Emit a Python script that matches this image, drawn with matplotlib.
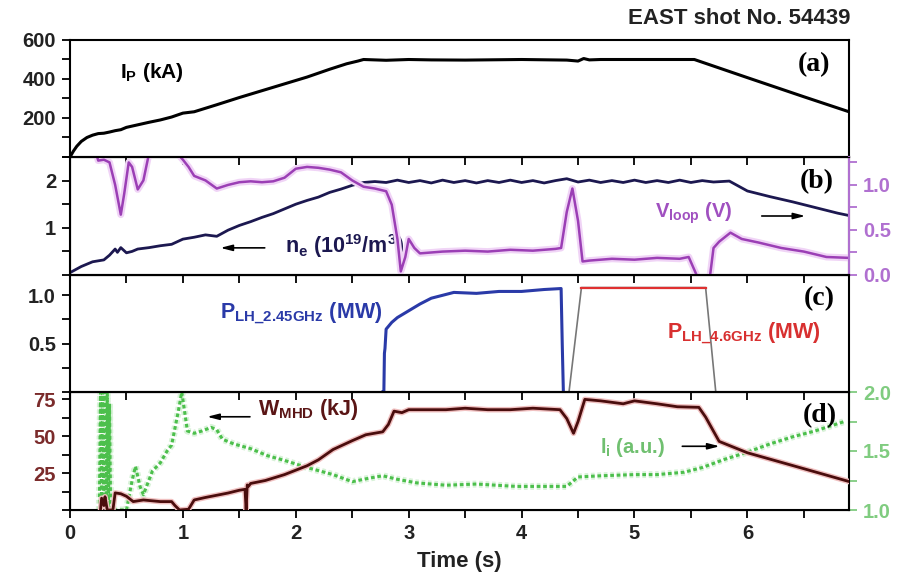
import matplotlib
matplotlib.use("Agg")
import matplotlib.pyplot as plt
import matplotlib.patheffects as pe
from matplotlib.ticker import MultipleLocator

plt.rcParams["font.family"] = ["Liberation Sans", "DejaVu Sans"]
plt.rcParams["font.weight"] = "bold"
plt.rcParams["mathtext.fontset"] = "custom"
plt.rcParams["mathtext.rm"] = "Liberation Sans:bold"
plt.rcParams["mathtext.it"] = "Liberation Sans:bold"
plt.rcParams["mathtext.bf"] = "Liberation Sans:bold"
plt.rcParams["mathtext.default"] = "bf"

# ---- data ----
# (a) plasma current
ip_t = [0, 0.03, 0.06, 0.1, 0.15, 0.2, 0.25, 0.3, 0.35, 0.4, 0.45, 0.5, 0.6, 0.7, 0.8, 0.9, 1.0,
        1.1, 1.2, 1.3, 1.5, 1.7, 1.9, 2.1, 2.3, 2.45, 2.55, 2.6, 2.7, 2.8, 3.0, 3.2, 3.5, 4.0,
        4.4, 4.5, 4.55, 4.6, 4.7, 5.0, 5.53, 6.0, 6.5, 6.9]
ip_v = [0, 30, 55, 80, 100, 112, 120, 122, 128, 135, 140, 152, 165, 178, 190, 205, 225,
        232, 250, 268, 305, 340, 375, 410, 450, 478, 492, 500, 498, 496, 500, 498, 497, 500,
        497, 492, 505, 498, 500, 500, 500, 407, 309, 232]

# (b) density and loop voltage
ne_t = [0, 0.1, 0.2, 0.3, 0.35, 0.4, 0.42, 0.45, 0.5, 0.55, 0.6, 0.7, 0.8, 0.9, 1.0, 1.1, 1.2,
        1.3, 1.4, 1.5, 1.6, 1.7, 1.8, 1.9, 2.0, 2.1, 2.2, 2.3, 2.4, 2.5, 2.6, 2.7,
        2.8, 2.9, 3.0, 3.1, 3.2, 3.3, 3.4, 3.5, 3.6, 3.7, 3.8, 3.9, 4.0, 4.1, 4.2, 4.3, 4.4,
        4.5, 4.6, 4.7, 4.8, 4.9, 5.0, 5.1, 5.2, 5.3, 5.4, 5.5, 5.6, 5.7, 5.84,
        6.0, 6.2, 6.4, 6.6, 6.8, 6.9]
ne_v = [0.05, 0.18, 0.28, 0.32, 0.42, 0.55, 0.48, 0.58, 0.47, 0.5, 0.55, 0.58, 0.62, 0.65,
        0.76, 0.80, 0.85, 0.82, 0.95, 1.05, 1.13, 1.22, 1.3, 1.4, 1.5, 1.58, 1.65, 1.75, 1.82,
        1.9, 1.96, 1.98,
        1.96, 2.01, 1.96, 2.0, 1.95, 2.01, 1.96, 2.0, 1.95, 2.0, 1.96, 2.01, 1.96, 2.0, 1.95,
        2.0, 2.04, 1.97, 2.01, 1.96, 2.0, 1.96, 2.01, 1.96, 2.0, 1.96, 2.01, 1.96, 2.0, 1.97, 1.99,
        1.78, 1.66, 1.55, 1.43, 1.31, 1.26]

vl_t = [0, 0.2, 0.25, 0.3, 0.35, 0.4, 0.45, 0.48, 0.52, 0.55, 0.6, 0.65, 0.7, 0.75, 0.9, 0.95,
        1.0, 1.05, 1.1, 1.2, 1.3, 1.4, 1.5, 1.6, 1.7, 1.8, 1.9, 2.0, 2.1, 2.2, 2.3, 2.4, 2.5,
        2.6, 2.7, 2.8, 2.85, 2.9, 2.93, 2.97, 3.0, 3.05, 3.1, 3.2, 3.3, 3.5, 3.7, 3.9, 4.1,
        4.3, 4.35, 4.4, 4.45, 4.5, 4.54, 4.6, 4.8, 5.0, 5.2, 5.4, 5.48, 5.55, 5.6, 5.66, 5.7,
        5.75, 5.85, 5.95, 6.1, 6.3, 6.5, 6.7, 6.9]
vl_v = [1.5, 1.5, 1.27, 1.28, 1.25, 1.0, 0.67, 0.9, 1.25, 1.2, 0.95, 1.05, 1.35, 1.5, 1.5, 1.35,
        1.28, 1.2, 1.1, 1.05, 0.96, 1.0, 1.03, 1.04, 1.03, 1.04, 1.08, 1.18, 1.2, 1.19, 1.17,
        1.14, 1.05, 0.98, 0.96, 0.93, 0.78, 0.4, 0.04, 0.2, 0.40, 0.30, 0.24, 0.25, 0.26, 0.27,
        0.26, 0.28, 0.27, 0.29, 0.3, 0.7, 0.96, 0.6, 0.15, 0.16, 0.18, 0.17, 0.19, 0.18, 0.2,
        0.0, -0.2, -0.1, 0.3, 0.37, 0.47, 0.4, 0.36, 0.3, 0.26, 0.2, 0.19]

# (c) LH powers
p245_t = [2.77, 2.78, 2.785, 2.79, 2.8, 2.85, 2.9, 3.0, 3.1, 3.2, 3.3, 3.4, 3.6, 3.8, 4.0, 4.2,
          4.35, 4.36, 4.37]
p245_v = [0, 0, 0.4, 0.45, 0.65, 0.72, 0.77, 0.84, 0.91, 0.97, 1.0, 1.03, 1.02, 1.04, 1.04,
          1.06, 1.07, 0.5, 0]
p46_t = [4.42, 4.53, 5.63, 5.72]
p46_v = [0, 1.08, 1.08, 0]

# (d) stored energy and internal inductance
w_t = [0.27, 0.28, 0.3, 0.31, 0.33, 0.38, 0.4, 0.45, 0.5, 0.56, 0.65, 0.8, 0.9, 0.93, 0.97,
       1.05, 1.1, 1.2, 1.3, 1.4, 1.5, 1.55, 1.56, 1.57, 1.58, 1.6, 1.73, 1.9, 2.0, 2.1, 2.2,
       2.33, 2.5, 2.62, 2.77, 2.82, 2.87, 2.94, 3.0, 3.07, 3.2, 3.33, 3.5, 3.7, 3.9, 4.1, 4.34,
       4.4, 4.46, 4.5, 4.56, 4.7, 4.9, 5.0, 5.2, 5.38, 5.57, 5.63, 5.75, 6.0, 6.5, 6.9]
w_v = [0, 8, 3, 9, 0, 0, 11.6, 11, 9.3, 5.7, 6.8, 5.7, 5.7, 3, 0, 0.5, 6.8, 8.5, 10, 11.5,
       13.4, 14, 0, 17, 16, 18, 20, 24, 27, 30, 34, 41, 47, 51, 53, 58, 67, 66, 68, 68, 68,
       68, 69, 68, 68, 69, 68, 62, 52, 60, 75, 74, 72, 74, 72, 70, 69.6, 63, 46.5, 38.8, 28, 19.3]

li_t = [0.26, 0.27, 0.28, 0.29, 0.3, 0.31, 0.32, 0.33, 0.34, 0.35, 0.36, 0.5, 0.55, 0.58, 0.62,
        0.65, 0.73, 0.8, 0.86, 0.9, 0.96, 0.99, 1.04, 1.1, 1.17, 1.25, 1.3, 1.35, 1.45, 1.6,
        1.75, 1.9, 2.1, 2.33, 2.5, 2.65, 2.77, 2.9, 3.07, 3.33, 3.6, 3.95, 4.2, 4.4, 4.5, 4.7,
        5.0, 5.2, 5.44, 5.6, 5.8, 6.0, 6.2, 6.4, 6.6, 6.86]
li_v = [1.0, 2.0, 1.0, 2.0, 1.1, 2.0, 1.0, 2.0, 1.0, 1.9, 1.0, 1.0, 1.25, 1.37, 1.2, 1.13,
        1.33, 1.4, 1.5, 1.55, 1.84, 2.0, 1.67, 1.65, 1.67, 1.7, 1.68, 1.6, 1.56, 1.52, 1.46,
        1.42, 1.36, 1.3, 1.24, 1.27, 1.29, 1.26, 1.23, 1.21, 1.22, 1.2, 1.2, 1.2, 1.28, 1.29,
        1.3, 1.3, 1.32, 1.36, 1.43, 1.49, 1.56, 1.62, 1.67, 1.75]

x_ticks = [0, 1, 2, 3, 4, 5, 6]

# ---- figure ----
fig = plt.figure(figsize=(8.98, 5.77), dpi=100)
W, H = 898, 577
L, R = 70, 849
edges = [40, 157, 275, 392, 510]
TICK_FS = 14.5


def bold_ticks(ax):
    for lab in ax.get_xticklabels() + ax.get_yticklabels():
        lab.set_fontweight("bold")


def make_ax(i):
    top, bot = edges[i], edges[i + 1]
    ax = fig.add_axes([L / W, 1 - bot / H, (R - L) / W, (bot - top) / H])
    ax.patch.set_visible(False)
    ax.set_xlim(0, 6.9)
    ax.xaxis.set_major_locator(MultipleLocator(1))
    ax.xaxis.set_minor_locator(MultipleLocator(0.5))
    ax.tick_params(axis="both", which="both", direction="out", length=6, width=1.3,
                   labelsize=TICK_FS, pad=4, labelcolor="#222222")
    for s in ax.spines.values():
        s.set_linewidth(1.5)
    if i < 3:
        ax.tick_params(axis="x", labelbottom=False)
    return ax


def glow(color, w=5):
    return [pe.Stroke(linewidth=w, foreground=color), pe.Normal()]


arrow = dict(arrowstyle="-|>,head_length=0.7,head_width=0.18", color="black", lw=1.2,
             shrinkA=0, shrinkB=0)

# (a)
ax1 = make_ax(0)
ax1.plot(ip_t, ip_v, color="black", lw=2.2)
ax1.set_ylim(0, 600)
ax1.set_yticks([200, 400, 600])
ax1.yaxis.set_minor_locator(MultipleLocator(100))
ax1.text(0.064, 0.72, r"I$_P$ (kA)", transform=ax1.transAxes, fontsize=15, va="center")
ax1.text(0.976, 0.79, "(a)", transform=ax1.transAxes, fontsize=20, ha="right", va="center",
         family="Liberation Serif", weight="bold")
fig.text(850 / W, 1 - 18 / H, "EAST shot No. 54439", ha="right", va="center", fontsize=16,
         color="#222222", weight="bold")

# (b)
ax2 = make_ax(1)
ax2b = ax2.twinx()
ax2.plot(ne_t, ne_v, color="#1c1850", lw=2, zorder=3)
ax2.set_ylim(0, 2.5)
ax2.set_yticks([1, 2])
ax2.yaxis.set_minor_locator(MultipleLocator(0.5))
ax2b.plot(vl_t, vl_v, color="#9b3fb5", lw=1.8, path_effects=glow("#f0d4f6", 5))
ax2b.set_ylim(0, 1.31)
ax2b.set_yticks([0.0, 0.5, 1.0])
ax2b.set_yticklabels(["0.0", "0.5", "1.0"])
ax2b.yaxis.set_minor_locator(MultipleLocator(0.25))
ax2b.tick_params(axis="y", which="both", direction="out", length=6, width=1.3,
                 labelsize=TICK_FS, colors="#b070d0", pad=4)
ax2b.spines["right"].set_color("#b070d0")
ax2b.spines["right"].set_linewidth(1.5)
ax2.text(0.276, 0.245, r"n$_e$ (10$^{19}$/m$^3$)", transform=ax2.transAxes, fontsize=15.5,
         va="center", color="#1c1850", zorder=5)
ax2.annotate("", xy=(0.193, 0.23), xytext=(0.25, 0.23), xycoords="axes fraction",
             arrowprops=arrow)
ax2.text(0.751, 0.525, r"V$_{loop}$ (V)", transform=ax2.transAxes, fontsize=14.5, va="center",
         color="#a050c0")
ax2.annotate("", xy=(0.944, 0.5), xytext=(0.888, 0.5), xycoords="axes fraction",
             arrowprops=arrow)
ax2.text(0.98, 0.79, "(b)", transform=ax2.transAxes, fontsize=20, ha="right", va="center",
         family="Liberation Serif", weight="bold", zorder=5)

# (c)
ax3 = make_ax(2)
ax3.plot(p245_t, p245_v, color="#2a3aa8", lw=2.2)
ax3.plot(p46_t, p46_v, color="#777777", lw=1.2)
ax3.plot(p46_t[1:3], p46_v[1:3], color="#e03030", lw=1.6)
ax3.set_ylim(0, 1.21)
ax3.set_yticks([0.5, 1.0])
ax3.set_yticklabels(["0.5", "1.0"])
ax3.yaxis.set_minor_locator(MultipleLocator(0.25))
ax3.text(0.193, 0.667, r"P$_{LH\_2.45GHz}$ (MW)", transform=ax3.transAxes, fontsize=15.5,
         va="center", color="#2a3aa8")
ax3.text(0.766, 0.50, r"P$_{LH\_4.6GHz}$ (MW)", transform=ax3.transAxes, fontsize=15.5,
         va="center", color="#d83030")
ax3.text(0.982, 0.80, "(c)", transform=ax3.transAxes, fontsize=20, ha="right", va="center",
         family="Liberation Serif", weight="bold")

# (d)
ax4 = make_ax(3)
ax4b = ax4.twinx()
ax4b.plot(li_t, li_v, color="#4cbf4c", lw=2.2, linestyle=(0, (1.2, 0.9)),
          path_effects=glow("#d8f2d8", 5))
ax4b.set_ylim(1.0, 2.0)
ax4b.set_yticks([1.0, 1.5, 2.0])
ax4b.set_yticklabels(["1.0", "1.5", "2.0"])
ax4b.yaxis.set_minor_locator(MultipleLocator(0.25))
ax4b.tick_params(axis="y", which="both", direction="out", length=6, width=1.3,
                 labelsize=TICK_FS, colors="#80cc80", pad=4)
ax4b.spines["right"].set_color("#80cc80")
ax4b.spines["right"].set_linewidth(1.5)
ax4.plot(w_t, w_v, color="#4a0d0d", lw=2, zorder=3, path_effects=glow("#f0c0c0", 4))
ax4.set_zorder(ax4b.get_zorder() + 1)
ax4.set_ylim(0, 80)
ax4.set_yticks([25, 50, 75])
ax4.yaxis.set_minor_locator(MultipleLocator(12.5))
ax4.tick_params(axis="y", labelcolor="#7b2b2b")
ax4.set_xticks(x_ticks)
ax4.set_xticklabels([str(v) for v in x_ticks])
ax4.set_xlabel("Time (s)", fontsize=16, labelpad=6, fontweight="bold", color="#222222")
ax4.text(0.241, 0.85, r"W$_{MHD}$ (kJ)", transform=ax4.transAxes, fontsize=15.5, va="center",
         color="#5a1515")
ax4.annotate("", xy=(0.176, 0.79), xytext=(0.231, 0.79), xycoords="axes fraction",
             arrowprops=arrow)
ax4.text(0.68, 0.53, r"l$_i$ (a.u.)", transform=ax4.transAxes, fontsize=14.5, va="center",
         color="#70c070")
ax4.annotate("", xy=(0.834, 0.54), xytext=(0.786, 0.54), xycoords="axes fraction",
             arrowprops=arrow)
ax4.text(0.985, 0.80, "(d)", transform=ax4.transAxes, fontsize=20, ha="right", va="center",
         family="Liberation Serif", weight="bold")

for a in (ax1, ax2, ax2b, ax3, ax4, ax4b):
    bold_ticks(a)

fig.savefig("out.png", dpi=100, facecolor="white")
